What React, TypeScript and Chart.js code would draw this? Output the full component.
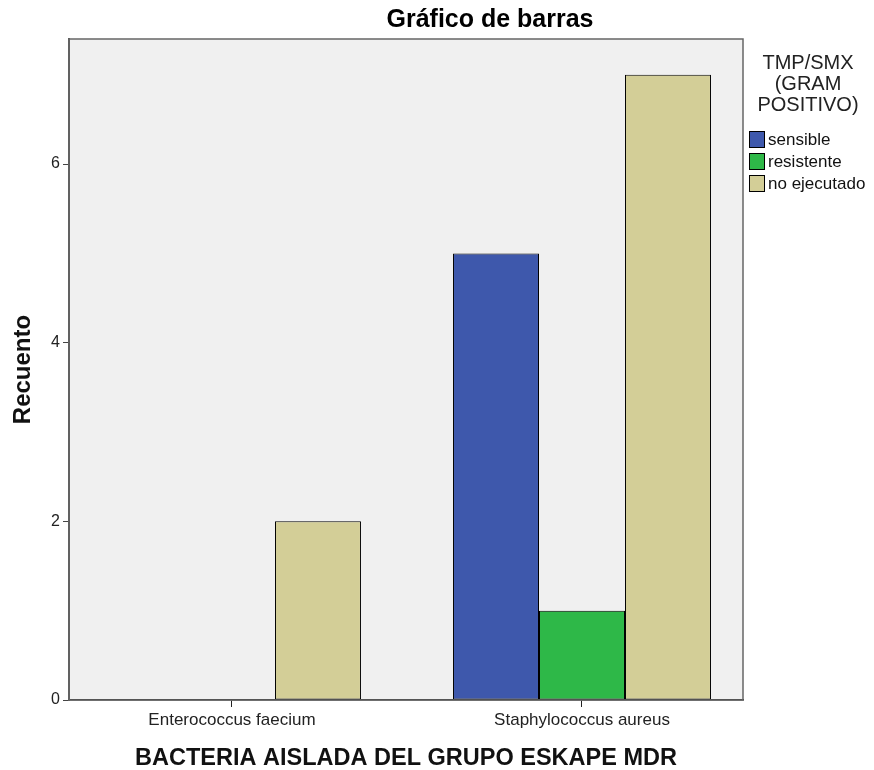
import React, { useEffect, useRef } from "react";
import { Chart, registerables } from "chart.js";

Chart.register(...registerables);

const categories = ["Enterococcus faecium", "Staphylococcus aureus"];
const seriesNames = ["sensible", "resistente", "no ejecutado"];
const sensible = [0, 5];
const resistente = [0, 1];
const noEjecutado = [2, 7];
const yTicks = [0, 2, 4, 6];
const legendTitle = ["TMP/SMX", "(GRAM", "POSITIVO)"];
const chartTitle = "Gráfico de barras";
const xTitle = "BACTERIA AISLADA DEL GRUPO ESKAPE MDR";
const yTitle = "Recuento";

const colors = ["#3e58ac", "#2eb848", "#d3ce97"];
const FONT = "'Liberation Sans', Arial, sans-serif";

const customPlugin = {
  id: "custom",
  beforeDraw(chart: any) {
    const { ctx, chartArea } = chart;
    ctx.save();
    ctx.fillStyle = "#f0f0f0";
    ctx.fillRect(chartArea.left, chartArea.top, chartArea.right - chartArea.left, chartArea.bottom - chartArea.top);
    ctx.restore();
  },
  afterDraw(chart: any) {
    const { ctx, chartArea } = chart;
    ctx.save();
    // plot frame
    ctx.strokeStyle = "#666";
    ctx.lineWidth = 1.5;
    ctx.strokeRect(chartArea.left, chartArea.top, chartArea.right - chartArea.left, chartArea.bottom - chartArea.top);
    // title
    ctx.fillStyle = "#000";
    ctx.font = `bold 25px ${FONT}`;
    ctx.textAlign = "center";
    ctx.textBaseline = "middle";
    ctx.fillText(chartTitle, 490, 20);
    // legend
    ctx.font = `20px ${FONT}`;
    ctx.fillStyle = "#222";
    legendTitle.forEach((t, i) => ctx.fillText(t, 808, 63 + i * 21));
    ctx.font = `17px ${FONT}`;
    ctx.textAlign = "left";
    seriesNames.forEach((n, i) => {
      const y = 139 + i * 22;
      ctx.fillStyle = colors[i];
      ctx.fillRect(749, y - 8, 15, 16);
      ctx.strokeStyle = "#000";
      ctx.lineWidth = 1;
      ctx.strokeRect(749.5, y - 7.5, 15, 16);
      ctx.fillStyle = "#111";
      ctx.fillText(n, 768, y + 1);
    });
    ctx.restore();
  },
};

export default function App() {
  const ref = useRef<HTMLCanvasElement>(null);
  useEffect(() => {
    if (!ref.current) return;
    const bw = (c: any) => (c.raw === 0 ? 0 : 1);
    const chart = new Chart(ref.current, {
      type: "bar",
      data: {
        labels: categories,
        datasets: [
          { label: seriesNames[0], data: sensible, backgroundColor: colors[0], borderColor: "#000", borderWidth: bw },
          { label: seriesNames[1], data: resistente, backgroundColor: colors[1], borderColor: "#000", borderWidth: bw },
          { label: seriesNames[2], data: noEjecutado, backgroundColor: colors[2], borderColor: "#000", borderWidth: bw },
        ],
      },
      options: {
        responsive: false,
        animation: false,
        layout: { padding: { top: 39, right: 131, left: 0, bottom: 0 } },
        plugins: {
          legend: { display: false },
          title: { display: false },
          tooltip: { enabled: false },
        },
        datasets: { bar: { barPercentage: 1, categoryPercentage: 0.737, borderSkipped: false } },
        scales: {
          x: {
            afterFit: (s: any) => { s.height = 70; },
            afterBuildTicks: (s: any) => { s._startValue = -0.4657; s._valueRange = 1.9257; },
            grid: { display: true, offset: false, drawOnChartArea: false, drawTicks: true, tickLength: 7, color: "#222" },
            border: { display: true, color: "#222", width: 1.5 },
            ticks: { color: "#222", font: { family: FONT, size: 17 }, padding: 3 },
            title: { display: true, text: xTitle, color: "#111", font: { family: FONT, size: 23.5, weight: "bold", lineHeight: 1 }, padding: 0 },
          },
          y: {
            min: 0,
            max: 7.4,
            afterFit: (s: any) => { s.width = 69; },
            afterBuildTicks: (s: any) => { s.ticks = yTicks.map((v) => ({ value: v })); },
            grid: { display: true, drawOnChartArea: false, drawTicks: true, tickLength: 6, color: "#444" },
            border: { display: true, color: "#555", width: 2 },
            ticks: { color: "#222", font: { family: FONT, size: 16 }, padding: 3 },
            title: { display: true, text: yTitle, color: "#111", font: { family: FONT, size: 24, weight: "bold", lineHeight: 1.2 }, padding: { top: 8.6, bottom: 0 } },
          },
        },
      },
      plugins: [customPlugin],
    });
    return () => chart.destroy();
  }, []);
  return (
    <div style={{ position: "absolute", left: 0, top: 0, width: 874, height: 770, background: "#fff" }}>
      <canvas ref={ref} width={874} height={770} />
    </div>
  );
}
